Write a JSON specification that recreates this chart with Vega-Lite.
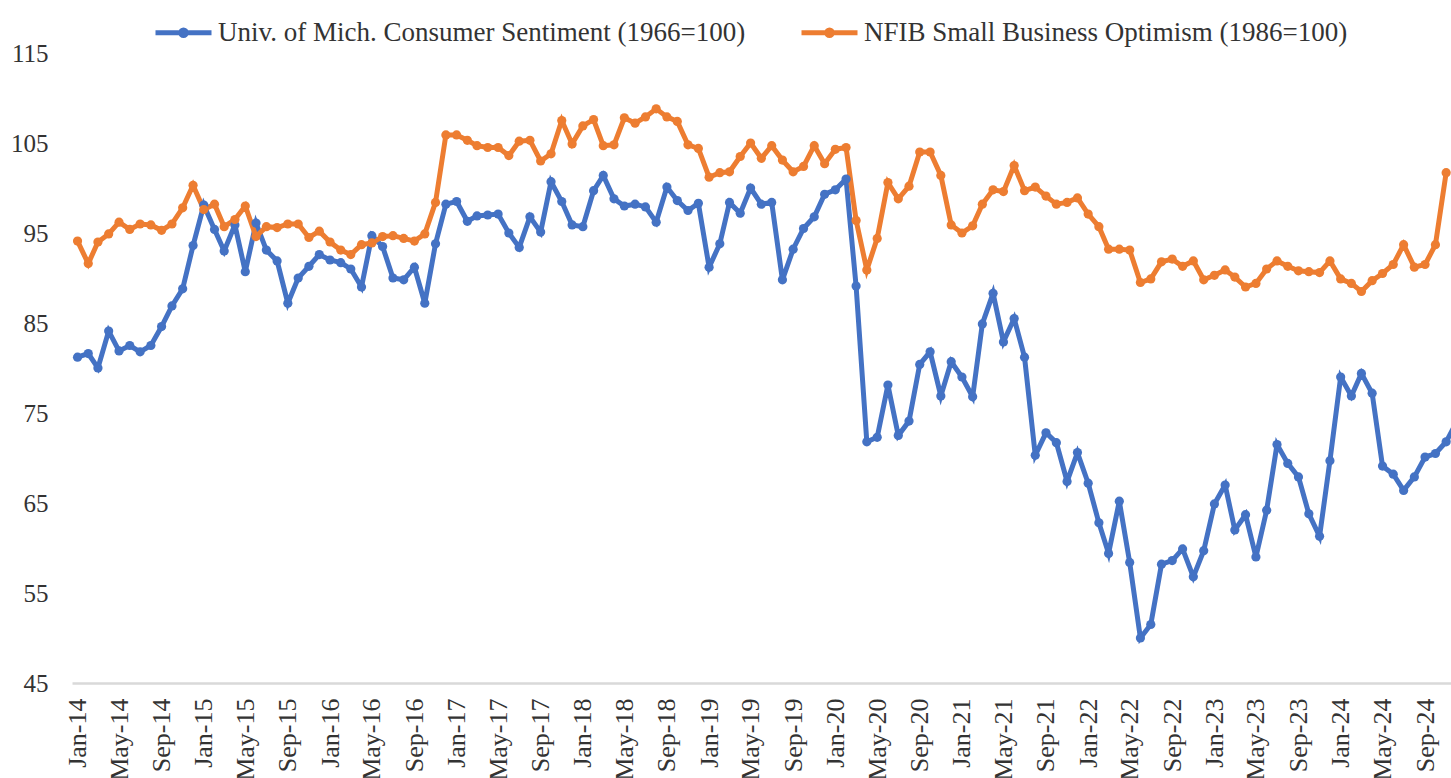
{
  "$schema": "https://vega.github.io/schema/vega-lite/v6.json",
  "width": 1379,
  "height": 630,
  "autosize": {"type": "none"},
  "padding": {"left": 72, "top": 53, "right": 0, "bottom": 95},
  "background": "white",
  "config": {
    "view": {"stroke": null},
    "font": "Liberation Serif",
    "axis": {"labelFont": "Liberation Serif", "labelColor": "#333333", "grid": false, "ticks": false},
    "legend": {"labelFont": "Liberation Serif"}
  },
  "data": {
    "values": [
      {"d":"2014-01-01","Mich":81.2,"NFIB":94.1},{"d":"2014-02-01","Mich":81.6,"NFIB":91.6},{"d":"2014-03-01","Mich":80.0,"NFIB":94.0},{"d":"2014-04-01","Mich":84.1,"NFIB":94.9},{"d":"2014-05-01","Mich":81.9,"NFIB":96.2},{"d":"2014-06-01","Mich":82.5,"NFIB":95.4},{"d":"2014-07-01","Mich":81.8,"NFIB":96.0},{"d":"2014-08-01","Mich":82.5,"NFIB":95.9},{"d":"2014-09-01","Mich":84.6,"NFIB":95.3},{"d":"2014-10-01","Mich":86.9,"NFIB":96.0},{"d":"2014-11-01","Mich":88.8,"NFIB":97.8},{"d":"2014-12-01","Mich":93.6,"NFIB":100.3},
      {"d":"2015-01-01","Mich":98.1,"NFIB":97.6},{"d":"2015-02-01","Mich":95.4,"NFIB":98.2},{"d":"2015-03-01","Mich":93.0,"NFIB":95.7},{"d":"2015-04-01","Mich":95.9,"NFIB":96.5},{"d":"2015-05-01","Mich":90.7,"NFIB":98.0},{"d":"2015-06-01","Mich":96.1,"NFIB":94.6},{"d":"2015-07-01","Mich":93.1,"NFIB":95.7},{"d":"2015-08-01","Mich":91.9,"NFIB":95.6},{"d":"2015-09-01","Mich":87.2,"NFIB":96.0},{"d":"2015-10-01","Mich":90.0,"NFIB":96.0},{"d":"2015-11-01","Mich":91.3,"NFIB":94.5},{"d":"2015-12-01","Mich":92.6,"NFIB":95.2},
      {"d":"2016-01-01","Mich":92.0,"NFIB":94.0},{"d":"2016-02-01","Mich":91.7,"NFIB":93.1},{"d":"2016-03-01","Mich":91.0,"NFIB":92.6},{"d":"2016-04-01","Mich":89.0,"NFIB":93.7},{"d":"2016-05-01","Mich":94.7,"NFIB":93.9},{"d":"2016-06-01","Mich":93.5,"NFIB":94.6},{"d":"2016-07-01","Mich":90.0,"NFIB":94.7},{"d":"2016-08-01","Mich":89.8,"NFIB":94.4},{"d":"2016-09-01","Mich":91.2,"NFIB":94.1},{"d":"2016-10-01","Mich":87.2,"NFIB":94.9},{"d":"2016-11-01","Mich":93.8,"NFIB":98.4},{"d":"2016-12-01","Mich":98.2,"NFIB":105.9},
      {"d":"2017-01-01","Mich":98.5,"NFIB":105.9},{"d":"2017-02-01","Mich":96.3,"NFIB":105.3},{"d":"2017-03-01","Mich":96.9,"NFIB":104.7},{"d":"2017-04-01","Mich":97.0,"NFIB":104.5},{"d":"2017-05-01","Mich":97.1,"NFIB":104.5},{"d":"2017-06-01","Mich":95.0,"NFIB":103.6},{"d":"2017-07-01","Mich":93.4,"NFIB":105.2},{"d":"2017-08-01","Mich":96.8,"NFIB":105.3},{"d":"2017-09-01","Mich":95.1,"NFIB":103.0},{"d":"2017-10-01","Mich":100.7,"NFIB":103.8},{"d":"2017-11-01","Mich":98.5,"NFIB":107.5},{"d":"2017-12-01","Mich":95.9,"NFIB":104.9},
      {"d":"2018-01-01","Mich":95.7,"NFIB":106.9},{"d":"2018-02-01","Mich":99.7,"NFIB":107.6},{"d":"2018-03-01","Mich":101.4,"NFIB":104.7},{"d":"2018-04-01","Mich":98.8,"NFIB":104.8},{"d":"2018-05-01","Mich":98.0,"NFIB":107.8},{"d":"2018-06-01","Mich":98.2,"NFIB":107.2},{"d":"2018-07-01","Mich":97.9,"NFIB":107.9},{"d":"2018-08-01","Mich":96.2,"NFIB":108.8},{"d":"2018-09-01","Mich":100.1,"NFIB":107.9},{"d":"2018-10-01","Mich":98.6,"NFIB":107.4},{"d":"2018-11-01","Mich":97.5,"NFIB":104.8},{"d":"2018-12-01","Mich":98.3,"NFIB":104.4},
      {"d":"2019-01-01","Mich":91.2,"NFIB":101.2},{"d":"2019-02-01","Mich":93.8,"NFIB":101.7},{"d":"2019-03-01","Mich":98.4,"NFIB":101.8},{"d":"2019-04-01","Mich":97.2,"NFIB":103.5},{"d":"2019-05-01","Mich":100.0,"NFIB":105.0},{"d":"2019-06-01","Mich":98.2,"NFIB":103.3},{"d":"2019-07-01","Mich":98.4,"NFIB":104.7},{"d":"2019-08-01","Mich":89.8,"NFIB":103.1},{"d":"2019-09-01","Mich":93.2,"NFIB":101.8},{"d":"2019-10-01","Mich":95.5,"NFIB":102.4},{"d":"2019-11-01","Mich":96.8,"NFIB":104.7},{"d":"2019-12-01","Mich":99.3,"NFIB":102.7},
      {"d":"2020-01-01","Mich":99.8,"NFIB":104.3},{"d":"2020-02-01","Mich":101.0,"NFIB":104.5},{"d":"2020-03-01","Mich":89.1,"NFIB":96.4},{"d":"2020-04-01","Mich":71.8,"NFIB":90.9},{"d":"2020-05-01","Mich":72.3,"NFIB":94.4},{"d":"2020-06-01","Mich":78.1,"NFIB":100.6},{"d":"2020-07-01","Mich":72.5,"NFIB":98.8},{"d":"2020-08-01","Mich":74.1,"NFIB":100.2},{"d":"2020-09-01","Mich":80.4,"NFIB":104.0},{"d":"2020-10-01","Mich":81.8,"NFIB":104.0},{"d":"2020-11-01","Mich":76.9,"NFIB":101.4},{"d":"2020-12-01","Mich":80.7,"NFIB":95.9},
      {"d":"2021-01-01","Mich":79.0,"NFIB":95.0},{"d":"2021-02-01","Mich":76.8,"NFIB":95.8},{"d":"2021-03-01","Mich":84.9,"NFIB":98.2},{"d":"2021-04-01","Mich":88.3,"NFIB":99.8},{"d":"2021-05-01","Mich":82.9,"NFIB":99.6},{"d":"2021-06-01","Mich":85.5,"NFIB":102.5},{"d":"2021-07-01","Mich":81.2,"NFIB":99.7},{"d":"2021-08-01","Mich":70.3,"NFIB":100.1},{"d":"2021-09-01","Mich":72.8,"NFIB":99.1},{"d":"2021-10-01","Mich":71.7,"NFIB":98.2},{"d":"2021-11-01","Mich":67.4,"NFIB":98.4},{"d":"2021-12-01","Mich":70.6,"NFIB":98.9},
      {"d":"2022-01-01","Mich":67.2,"NFIB":97.1},{"d":"2022-02-01","Mich":62.8,"NFIB":95.7},{"d":"2022-03-01","Mich":59.4,"NFIB":93.2},{"d":"2022-04-01","Mich":65.2,"NFIB":93.2},{"d":"2022-05-01","Mich":58.4,"NFIB":93.1},{"d":"2022-06-01","Mich":50.0,"NFIB":89.5},{"d":"2022-07-01","Mich":51.5,"NFIB":89.9},{"d":"2022-08-01","Mich":58.2,"NFIB":91.8},{"d":"2022-09-01","Mich":58.6,"NFIB":92.1},{"d":"2022-10-01","Mich":59.9,"NFIB":91.3},{"d":"2022-11-01","Mich":56.8,"NFIB":91.9},{"d":"2022-12-01","Mich":59.7,"NFIB":89.8},
      {"d":"2023-01-01","Mich":64.9,"NFIB":90.3},{"d":"2023-02-01","Mich":67.0,"NFIB":90.9},{"d":"2023-03-01","Mich":62.0,"NFIB":90.1},{"d":"2023-04-01","Mich":63.7,"NFIB":89.0},{"d":"2023-05-01","Mich":59.0,"NFIB":89.4},{"d":"2023-06-01","Mich":64.2,"NFIB":91.0},{"d":"2023-07-01","Mich":71.5,"NFIB":91.9},{"d":"2023-08-01","Mich":69.4,"NFIB":91.3},{"d":"2023-09-01","Mich":67.9,"NFIB":90.8},{"d":"2023-10-01","Mich":63.8,"NFIB":90.7},{"d":"2023-11-01","Mich":61.3,"NFIB":90.6},{"d":"2023-12-01","Mich":69.7,"NFIB":91.9},
      {"d":"2024-01-01","Mich":79.0,"NFIB":89.9},{"d":"2024-02-01","Mich":76.9,"NFIB":89.4},{"d":"2024-03-01","Mich":79.4,"NFIB":88.5},{"d":"2024-04-01","Mich":77.2,"NFIB":89.7},{"d":"2024-05-01","Mich":69.1,"NFIB":90.5},{"d":"2024-06-01","Mich":68.2,"NFIB":91.5},{"d":"2024-07-01","Mich":66.4,"NFIB":93.7},{"d":"2024-08-01","Mich":67.9,"NFIB":91.2},{"d":"2024-09-01","Mich":70.1,"NFIB":91.5},{"d":"2024-10-01","Mich":70.5,"NFIB":93.7},{"d":"2024-11-01","Mich":71.8,"NFIB":101.7},{"d":"2024-12-01","Mich":74.0,"NFIB":null}
    ]
  },
  "transform": [
    {"fold": ["Mich", "NFIB"], "as": ["series", "value"]},
    {"filter": "datum.value != null"}
  ],
  "mark": {
    "type": "line",
    "strokeWidth": 5,
    "clip": true,
    "point": {"filled": true, "size": 85}
  },
  "encoding": {
    "x": {
      "field": "d",
      "type": "temporal",
      "scale": {"type": "utc", "domain": ["2013-12-16", "2024-11-15"]},
      "axis": {
        "title": null,
        "labelExpr": "utcFormat(datum.value, '%b-%y')",
        "tickCount": {"interval": "month", "step": 4},
        "labelAngle": -90,
        "labelAlign": "right",
        "labelBaseline": "middle",
        "labelFontSize": 26,
        "labelPadding": 15,
        "labelOverlap": false,
        "labelFlush": false,
        "labelBound": false,
        "domainColor": "#d9d9d9",
        "domainWidth": 2.5
      }
    },
    "y": {
      "field": "value",
      "type": "quantitative",
      "scale": {"domain": [45, 115], "nice": false, "zero": false},
      "axis": {
        "title": null,
        "values": [45, 55, 65, 75, 85, 95, 105, 115],
        "domain": false,
        "labelFontSize": 25,
        "labelPadding": 24
      }
    },
    "color": {
      "field": "series",
      "type": "nominal",
      "scale": {"domain": ["Mich", "NFIB"], "range": ["#4472C4", "#ED7D31"]},
      "legend": {
        "title": null,
        "orient": "none",
        "direction": "horizontal",
        "legendX": 81,
        "legendY": -51,
        "labelFontSize": 27,
        "labelColor": "#333333",
        "labelLimit": 800,
        "labelOffset": 4,
        "columnPadding": 45,
        "symbolType": "M-1,0H1M-0.1,0A0.1,0.1,0,1,1,0.1,0A0.1,0.1,0,1,1,-0.1,0Z",
        "symbolSize": 3136,
        "symbolStrokeWidth": 5,
        "labelExpr": "datum.value == 'Mich' ? 'Univ. of Mich. Consumer Sentiment (1966=100)' : 'NFIB Small Business Optimism (1986=100)'"
      }
    }
  }
}
